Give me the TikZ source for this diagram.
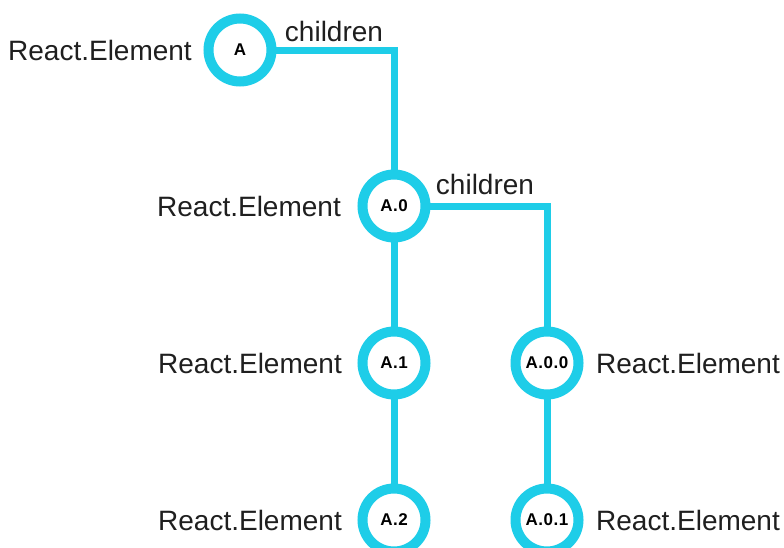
\documentclass[tikz,border=0pt]{standalone}
\usepackage{fontspec}
\setmainfont{Liberation Sans}
\definecolor{reactcyan}{RGB}{30,205,232}

\begin{document}
\begin{tikzpicture}[x=1pt, y=-1pt,
        elem/.style={circle, draw=reactcyan, line width=10pt, fill=white, minimum size=63pt, inner sep=0pt, font=\fontsize{17}{18}\selectfont\bfseries\addfontfeatures{LetterSpace=3}},
        wire/.style={draw=reactcyan, line width=7pt},
        tag/.style={font=\fontsize{28}{32}\selectfont, text=black!88, inner sep=0pt}]
    \useasboundingbox (0, 0) rectangle (784, 547);
    % connectors first, circles go on top
    \coordinate (cA) at (240, 50);
    \coordinate (cA0) at (394, 206);
    \coordinate (cA1) at (394, 363);
    \coordinate (cA2) at (394, 520);
    \coordinate (cA00) at (547, 363);
    \coordinate (cA01) at (547, 520);
    \draw[wire] (cA) -| (cA0);
    \draw[wire] (cA0) -| (cA00);
    \draw[wire] (cA0) -- (cA1) -- (cA2);
    \draw[wire] (cA00) -- (cA01);
    % elements
    \node[elem] (A) at (cA) {A};
    \node[elem] (A0) at (cA0) {A.0};
    \node[elem] (A1) at (cA1) {A.1};
    \node[elem] (A2) at (cA2) {A.2};
    \node[elem] (A00) at (cA00) {A.0.0};
    \node[elem] (A01) at (cA01) {A.0.1};
    % labels
    \node[tag, anchor=east] (tA) at (192, 50) {React.Element};
    \node[tag, anchor=east] (tA0) at (341, 206) {React.Element};
    \node[tag, anchor=east] (tA1) at (342, 363) {React.Element};
    \node[tag, anchor=east] (tA2) at (342, 520) {React.Element};
    \node[tag, anchor=west] (tA00) at (596, 363) {React.Element};
    \node[tag, anchor=west] (tA01) at (596, 520) {React.Element};
    \node[tag] (kidsA) at (334, 31) {children};
    \node[tag] (kidsA0) at (485, 184) {children};
\end{tikzpicture}
\end{document}
